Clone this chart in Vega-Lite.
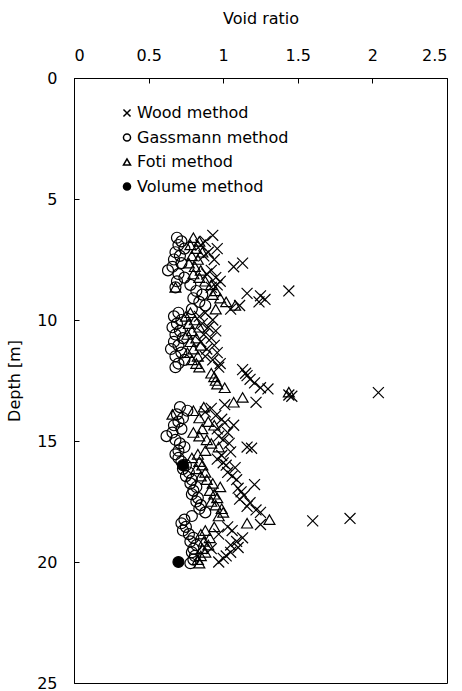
{
  "$schema": "https://vega.github.io/schema/vega-lite/v6.json",
  "autosize": "none",
  "width": 373,
  "height": 605,
  "padding": {"left": 74, "top": 78, "right": 15, "bottom": 8},
  "background": "white",
  "config": {
    "font": "DejaVu Sans",
    "view": {"stroke": "black", "strokeWidth": 1},
    "axis": {"grid": false, "domainColor": "black", "tickColor": "black", "labelColor": "black", "titleColor": "black", "labelFontSize": 16, "titleFontSize": 16, "titleFontWeight": "normal", "labelFont": "DejaVu Sans", "titleFont": "DejaVu Sans"},
    "legend": {"labelFontSize": 16, "labelFont": "DejaVu Sans", "labelColor": "black"}
  },
  "data": {"values": [
    {"m": "Gassmann method", "d": 6.6, "e": 0.69}, {"m": "Gassmann method", "d": 6.75, "e": 0.72}, {"m": "Gassmann method", "d": 6.9, "e": 0.70}, {"m": "Gassmann method", "d": 7.05, "e": 0.74}, {"m": "Gassmann method", "d": 7.2, "e": 0.68}, {"m": "Gassmann method", "d": 7.35, "e": 0.71}, {"m": "Gassmann method", "d": 7.5, "e": 0.67}, {"m": "Gassmann method", "d": 7.65, "e": 0.72}, {"m": "Gassmann method", "d": 7.8, "e": 0.66}, {"m": "Gassmann method", "d": 7.95, "e": 0.63}, {"m": "Gassmann method", "d": 8.1, "e": 0.70}, {"m": "Gassmann method", "d": 8.25, "e": 0.74}, {"m": "Gassmann method", "d": 8.4, "e": 0.69}, {"m": "Gassmann method", "d": 8.55, "e": 0.78}, {"m": "Gassmann method", "d": 8.65, "e": 0.68}, {"m": "Gassmann method", "d": 8.8, "e": 0.82}, {"m": "Gassmann method", "d": 8.95, "e": 0.86}, {"m": "Gassmann method", "d": 9.1, "e": 0.80}, {"m": "Gassmann method", "d": 9.25, "e": 0.84}, {"m": "Gassmann method", "d": 9.4, "e": 0.88}, {"m": "Gassmann method", "d": 9.55, "e": 0.79}, {"m": "Gassmann method", "d": 9.7, "e": 0.70}, {"m": "Gassmann method", "d": 9.85, "e": 0.67}, {"m": "Gassmann method", "d": 10.0, "e": 0.72}, {"m": "Gassmann method", "d": 10.15, "e": 0.69}, {"m": "Gassmann method", "d": 10.3, "e": 0.66}, {"m": "Gassmann method", "d": 10.45, "e": 0.71}, {"m": "Gassmann method", "d": 10.6, "e": 0.68}, {"m": "Gassmann method", "d": 10.75, "e": 0.73}, {"m": "Gassmann method", "d": 10.9, "e": 0.67}, {"m": "Gassmann method", "d": 11.05, "e": 0.70}, {"m": "Gassmann method", "d": 11.2, "e": 0.65}, {"m": "Gassmann method", "d": 11.35, "e": 0.72}, {"m": "Gassmann method", "d": 11.5, "e": 0.68}, {"m": "Gassmann method", "d": 11.65, "e": 0.74}, {"m": "Gassmann method", "d": 11.8, "e": 0.70}, {"m": "Gassmann method", "d": 11.95, "e": 0.68},
    {"m": "Gassmann method", "d": 13.6, "e": 0.71}, {"m": "Gassmann method", "d": 13.75, "e": 0.76}, {"m": "Gassmann method", "d": 13.9, "e": 0.69}, {"m": "Gassmann method", "d": 14.05, "e": 0.73}, {"m": "Gassmann method", "d": 14.2, "e": 0.70}, {"m": "Gassmann method", "d": 14.35, "e": 0.67}, {"m": "Gassmann method", "d": 14.5, "e": 0.72}, {"m": "Gassmann method", "d": 14.65, "e": 0.66}, {"m": "Gassmann method", "d": 14.8, "e": 0.62}, {"m": "Gassmann method", "d": 14.95, "e": 0.68}, {"m": "Gassmann method", "d": 15.1, "e": 0.71}, {"m": "Gassmann method", "d": 15.25, "e": 0.74}, {"m": "Gassmann method", "d": 15.4, "e": 0.70}, {"m": "Gassmann method", "d": 15.55, "e": 0.68}, {"m": "Gassmann method", "d": 15.7, "e": 0.70}, {"m": "Gassmann method", "d": 15.85, "e": 0.72}, {"m": "Gassmann method", "d": 16.0, "e": 0.75}, {"m": "Gassmann method", "d": 16.15, "e": 0.73}, {"m": "Gassmann method", "d": 16.3, "e": 0.77}, {"m": "Gassmann method", "d": 16.45, "e": 0.75}, {"m": "Gassmann method", "d": 16.6, "e": 0.79}, {"m": "Gassmann method", "d": 16.75, "e": 0.78}, {"m": "Gassmann method", "d": 16.9, "e": 0.82}, {"m": "Gassmann method", "d": 17.05, "e": 0.80}, {"m": "Gassmann method", "d": 17.2, "e": 0.79}, {"m": "Gassmann method", "d": 17.35, "e": 0.83}, {"m": "Gassmann method", "d": 17.5, "e": 0.82}, {"m": "Gassmann method", "d": 17.65, "e": 0.85}, {"m": "Gassmann method", "d": 17.8, "e": 0.84}, {"m": "Gassmann method", "d": 17.95, "e": 0.88}, {"m": "Gassmann method", "d": 18.1, "e": 0.79}, {"m": "Gassmann method", "d": 18.25, "e": 0.74}, {"m": "Gassmann method", "d": 18.4, "e": 0.72}, {"m": "Gassmann method", "d": 18.55, "e": 0.75}, {"m": "Gassmann method", "d": 18.7, "e": 0.73}, {"m": "Gassmann method", "d": 18.85, "e": 0.77}, {"m": "Gassmann method", "d": 19.0, "e": 0.80}, {"m": "Gassmann method", "d": 19.15, "e": 0.78}, {"m": "Gassmann method", "d": 19.3, "e": 0.82}, {"m": "Gassmann method", "d": 19.45, "e": 0.80}, {"m": "Gassmann method", "d": 19.6, "e": 0.79}, {"m": "Gassmann method", "d": 19.75, "e": 0.81}, {"m": "Gassmann method", "d": 19.9, "e": 0.80}, {"m": "Gassmann method", "d": 20.05, "e": 0.78},
    {"m": "Foti method", "d": 6.6, "e": 0.80}, {"m": "Foti method", "d": 6.75, "e": 0.84}, {"m": "Foti method", "d": 6.9, "e": 0.78}, {"m": "Foti method", "d": 7.05, "e": 0.82}, {"m": "Foti method", "d": 7.2, "e": 0.86}, {"m": "Foti method", "d": 7.35, "e": 0.79}, {"m": "Foti method", "d": 7.5, "e": 0.83}, {"m": "Foti method", "d": 7.65, "e": 0.77}, {"m": "Foti method", "d": 7.8, "e": 0.81}, {"m": "Foti method", "d": 7.95, "e": 0.85}, {"m": "Foti method", "d": 8.1, "e": 0.80}, {"m": "Foti method", "d": 8.25, "e": 0.84}, {"m": "Foti method", "d": 8.4, "e": 0.88}, {"m": "Foti method", "d": 8.55, "e": 0.92}, {"m": "Foti method", "d": 8.65, "e": 0.68}, {"m": "Foti method", "d": 8.8, "e": 0.95}, {"m": "Foti method", "d": 8.95, "e": 0.93}, {"m": "Foti method", "d": 9.1, "e": 0.98}, {"m": "Foti method", "d": 9.25, "e": 1.02}, {"m": "Foti method", "d": 9.4, "e": 1.08}, {"m": "Foti method", "d": 9.55, "e": 0.95}, {"m": "Foti method", "d": 9.7, "e": 0.78}, {"m": "Foti method", "d": 9.85, "e": 0.75}, {"m": "Foti method", "d": 10.0, "e": 0.81}, {"m": "Foti method", "d": 10.15, "e": 0.77}, {"m": "Foti method", "d": 10.3, "e": 0.84}, {"m": "Foti method", "d": 10.45, "e": 0.79}, {"m": "Foti method", "d": 10.6, "e": 0.76}, {"m": "Foti method", "d": 10.75, "e": 0.82}, {"m": "Foti method", "d": 10.9, "e": 0.78}, {"m": "Foti method", "d": 11.05, "e": 0.85}, {"m": "Foti method", "d": 11.2, "e": 0.80}, {"m": "Foti method", "d": 11.35, "e": 0.76}, {"m": "Foti method", "d": 11.5, "e": 0.83}, {"m": "Foti method", "d": 11.65, "e": 0.79}, {"m": "Foti method", "d": 11.8, "e": 0.82}, {"m": "Foti method", "d": 11.95, "e": 0.84},
    {"m": "Foti method", "d": 12.2, "e": 0.92}, {"m": "Foti method", "d": 12.35, "e": 0.94}, {"m": "Foti method", "d": 12.5, "e": 0.95}, {"m": "Foti method", "d": 12.65, "e": 0.96}, {"m": "Foti method", "d": 12.8, "e": 1.01}, {"m": "Foti method", "d": 12.98, "e": 1.44}, {"m": "Foti method", "d": 13.2, "e": 1.13}, {"m": "Foti method", "d": 13.4, "e": 1.07},
    {"m": "Foti method", "d": 13.6, "e": 0.87}, {"m": "Foti method", "d": 13.75, "e": 0.80}, {"m": "Foti method", "d": 13.9, "e": 0.66}, {"m": "Foti method", "d": 14.05, "e": 0.84}, {"m": "Foti method", "d": 14.2, "e": 0.90}, {"m": "Foti method", "d": 14.35, "e": 0.94}, {"m": "Foti method", "d": 14.5, "e": 0.86}, {"m": "Foti method", "d": 14.65, "e": 0.80}, {"m": "Foti method", "d": 14.8, "e": 0.84}, {"m": "Foti method", "d": 14.95, "e": 0.89}, {"m": "Foti method", "d": 15.1, "e": 0.92}, {"m": "Foti method", "d": 15.25, "e": 0.97}, {"m": "Foti method", "d": 15.4, "e": 0.88}, {"m": "Foti method", "d": 15.55, "e": 0.83}, {"m": "Foti method", "d": 15.7, "e": 0.79}, {"m": "Foti method", "d": 15.85, "e": 0.84}, {"m": "Foti method", "d": 16.0, "e": 0.86}, {"m": "Foti method", "d": 16.15, "e": 0.82}, {"m": "Foti method", "d": 16.3, "e": 0.88}, {"m": "Foti method", "d": 16.45, "e": 0.85}, {"m": "Foti method", "d": 16.6, "e": 0.89}, {"m": "Foti method", "d": 16.75, "e": 0.93}, {"m": "Foti method", "d": 16.9, "e": 0.98}, {"m": "Foti method", "d": 17.05, "e": 0.91}, {"m": "Foti method", "d": 17.2, "e": 0.94}, {"m": "Foti method", "d": 17.35, "e": 0.96}, {"m": "Foti method", "d": 17.5, "e": 0.92}, {"m": "Foti method", "d": 17.65, "e": 0.95}, {"m": "Foti method", "d": 17.8, "e": 0.99}, {"m": "Foti method", "d": 17.95, "e": 1.00}, {"m": "Foti method", "d": 18.1, "e": 0.97}, {"m": "Foti method", "d": 18.25, "e": 1.31}, {"m": "Foti method", "d": 18.4, "e": 1.16}, {"m": "Foti method", "d": 18.55, "e": 0.94}, {"m": "Foti method", "d": 18.7, "e": 0.88}, {"m": "Foti method", "d": 18.85, "e": 0.85}, {"m": "Foti method", "d": 19.0, "e": 0.91}, {"m": "Foti method", "d": 19.15, "e": 0.87}, {"m": "Foti method", "d": 19.3, "e": 0.90}, {"m": "Foti method", "d": 19.45, "e": 0.86}, {"m": "Foti method", "d": 19.6, "e": 0.88}, {"m": "Foti method", "d": 19.75, "e": 0.85}, {"m": "Foti method", "d": 19.9, "e": 0.83}, {"m": "Foti method", "d": 20.05, "e": 0.84},
    {"m": "Wood method", "d": 6.5, "e": 0.93}, {"m": "Wood method", "d": 6.75, "e": 0.88}, {"m": "Wood method", "d": 6.9, "e": 0.85}, {"m": "Wood method", "d": 7.05, "e": 0.96}, {"m": "Wood method", "d": 7.2, "e": 0.90}, {"m": "Wood method", "d": 7.35, "e": 0.87}, {"m": "Wood method", "d": 7.5, "e": 0.94}, {"m": "Wood method", "d": 7.65, "e": 1.13}, {"m": "Wood method", "d": 7.8, "e": 1.07}, {"m": "Wood method", "d": 7.95, "e": 0.92}, {"m": "Wood method", "d": 8.1, "e": 0.89}, {"m": "Wood method", "d": 8.25, "e": 0.95}, {"m": "Wood method", "d": 8.4, "e": 0.98}, {"m": "Wood method", "d": 8.55, "e": 0.96}, {"m": "Wood method", "d": 8.65, "e": 0.92}, {"m": "Wood method", "d": 8.8, "e": 1.44}, {"m": "Wood method", "d": 8.9, "e": 1.16}, {"m": "Wood method", "d": 9.0, "e": 1.25}, {"m": "Wood method", "d": 9.15, "e": 1.28}, {"m": "Wood method", "d": 9.25, "e": 1.24}, {"m": "Wood method", "d": 9.4, "e": 1.11}, {"m": "Wood method", "d": 9.55, "e": 1.05}, {"m": "Wood method", "d": 9.7, "e": 0.88}, {"m": "Wood method", "d": 9.85, "e": 0.84}, {"m": "Wood method", "d": 10.0, "e": 0.93}, {"m": "Wood method", "d": 10.15, "e": 0.86}, {"m": "Wood method", "d": 10.3, "e": 0.90}, {"m": "Wood method", "d": 10.45, "e": 0.95}, {"m": "Wood method", "d": 10.6, "e": 0.87}, {"m": "Wood method", "d": 10.75, "e": 0.92}, {"m": "Wood method", "d": 10.9, "e": 0.85}, {"m": "Wood method", "d": 11.05, "e": 0.94}, {"m": "Wood method", "d": 11.2, "e": 0.89}, {"m": "Wood method", "d": 11.35, "e": 0.96}, {"m": "Wood method", "d": 11.5, "e": 0.88}, {"m": "Wood method", "d": 11.65, "e": 0.93}, {"m": "Wood method", "d": 11.8, "e": 0.98}, {"m": "Wood method", "d": 11.95, "e": 0.97},
    {"m": "Wood method", "d": 12.05, "e": 1.13}, {"m": "Wood method", "d": 12.2, "e": 1.15}, {"m": "Wood method", "d": 12.3, "e": 1.16}, {"m": "Wood method", "d": 12.45, "e": 1.18}, {"m": "Wood method", "d": 12.6, "e": 1.21}, {"m": "Wood method", "d": 12.8, "e": 1.25}, {"m": "Wood method", "d": 12.85, "e": 1.30}, {"m": "Wood method", "d": 13.0, "e": 2.04}, {"m": "Wood method", "d": 13.1, "e": 1.44}, {"m": "Wood method", "d": 13.15, "e": 1.46}, {"m": "Wood method", "d": 13.4, "e": 1.22}, {"m": "Wood method", "d": 13.5, "e": 1.01},
    {"m": "Wood method", "d": 13.65, "e": 0.92}, {"m": "Wood method", "d": 13.8, "e": 0.88}, {"m": "Wood method", "d": 13.95, "e": 0.95}, {"m": "Wood method", "d": 14.1, "e": 0.99}, {"m": "Wood method", "d": 14.25, "e": 1.01}, {"m": "Wood method", "d": 14.35, "e": 1.07}, {"m": "Wood method", "d": 14.5, "e": 0.96}, {"m": "Wood method", "d": 14.65, "e": 1.03}, {"m": "Wood method", "d": 14.8, "e": 0.97}, {"m": "Wood method", "d": 14.95, "e": 1.00}, {"m": "Wood method", "d": 15.1, "e": 1.04}, {"m": "Wood method", "d": 15.25, "e": 1.16}, {"m": "Wood method", "d": 15.3, "e": 1.19}, {"m": "Wood method", "d": 15.45, "e": 1.05}, {"m": "Wood method", "d": 15.6, "e": 0.99}, {"m": "Wood method", "d": 15.75, "e": 0.96}, {"m": "Wood method", "d": 15.9, "e": 1.00}, {"m": "Wood method", "d": 16.0, "e": 1.02}, {"m": "Wood method", "d": 16.1, "e": 1.08}, {"m": "Wood method", "d": 16.3, "e": 1.03}, {"m": "Wood method", "d": 16.45, "e": 1.06}, {"m": "Wood method", "d": 16.6, "e": 1.09}, {"m": "Wood method", "d": 16.8, "e": 1.21}, {"m": "Wood method", "d": 16.95, "e": 1.10}, {"m": "Wood method", "d": 17.1, "e": 1.12}, {"m": "Wood method", "d": 17.25, "e": 1.14}, {"m": "Wood method", "d": 17.4, "e": 1.11}, {"m": "Wood method", "d": 17.55, "e": 1.18}, {"m": "Wood method", "d": 17.7, "e": 1.16}, {"m": "Wood method", "d": 17.85, "e": 1.22}, {"m": "Wood method", "d": 17.95, "e": 1.25}, {"m": "Wood method", "d": 18.2, "e": 1.85}, {"m": "Wood method", "d": 18.3, "e": 1.60}, {"m": "Wood method", "d": 18.45, "e": 1.25}, {"m": "Wood method", "d": 18.55, "e": 1.03}, {"m": "Wood method", "d": 18.7, "e": 1.06}, {"m": "Wood method", "d": 18.85, "e": 0.97}, {"m": "Wood method", "d": 19.0, "e": 1.13}, {"m": "Wood method", "d": 19.15, "e": 1.09}, {"m": "Wood method", "d": 19.3, "e": 1.05}, {"m": "Wood method", "d": 19.4, "e": 1.10}, {"m": "Wood method", "d": 19.45, "e": 0.92}, {"m": "Wood method", "d": 19.6, "e": 1.05}, {"m": "Wood method", "d": 19.75, "e": 1.02}, {"m": "Wood method", "d": 19.85, "e": 1.00}, {"m": "Wood method", "d": 20.0, "e": 0.97},
    {"m": "Volume method", "d": 16.0, "e": 0.73}, {"m": "Volume method", "d": 20.0, "e": 0.70}
  ]},
  "mark": {"type": "point", "filled": true, "stroke": "black", "strokeWidth": 1.2, "opacity": 1, "size": 120, "clip": true},
  "encoding": {
    "x": {"field": "e", "type": "quantitative", "title": "Void ratio",
      "scale": {"domain": [0, 2.5], "nice": false, "zero": false},
      "axis": {"orient": "top", "values": [0, 0.5, 1, 1.5, 2, 2.5], "format": ".1~f", "tickSize": -5, "labelPadding": 20, "titlePadding": 21}},
    "y": {"field": "d", "type": "quantitative", "title": "Depth [m]",
      "scale": {"domain": [0, 25], "reverse": true, "nice": false, "zero": false},
      "axis": {"orient": "left", "values": [0, 5, 10, 15, 20, 25], "tickSize": -5, "labelPadding": 22, "titlePadding": 14}},
    "shape": {"field": "m", "type": "nominal", "title": null,
      "scale": {"domain": ["Wood method", "Gassmann method", "Foti method", "Volume method"], "range": ["M-1,-1L1,1M-1,1L1,-1", "circle", "triangle-up", "circle"]},
      "legend": {"orient": "none", "legendX": 45, "legendY": 27, "padding": 0, "rowPadding": 8.5, "labelOffset": 2, "symbolSize": 50,
        "encode": {"symbols": {"update": {"stroke": {"value": "black"}, "strokeWidth": {"value": 1}, "size": {"signal": "datum.value === 'Volume method' ? 110 : 50"}}}}}},
    "fill": {"field": "m", "type": "nominal", "title": null,
      "scale": {"domain": ["Wood method", "Gassmann method", "Foti method", "Volume method"], "range": ["transparent", "transparent", "transparent", "black"]}}
  }
}
